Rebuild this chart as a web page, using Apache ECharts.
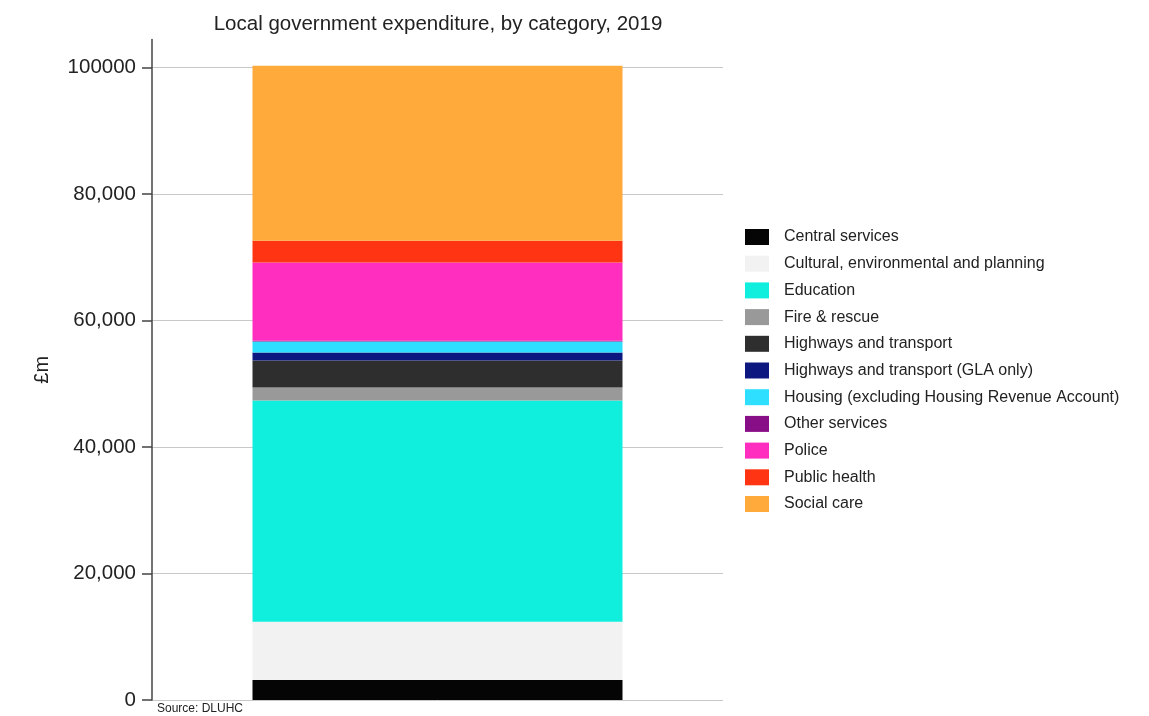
<!DOCTYPE html>
<html>
<head>
<meta charset="utf-8">
<script src="https://cdn.jsdelivr.net/npm/echarts@6/dist/echarts.min.js"></script>
<style>html,body{margin:0;padding:0;background:#fff;}#c{width:1149px;height:716px;}</style>
</head>
<body>
<div id="c"></div>
<script>
const xCategories = ['2019'];
const seriesNames = ['Central services','Cultural, environmental and planning','Education','Fire & rescue','Highways and transport','Highways and transport (GLA only)','Housing (excluding Housing Revenue Account)','Other services','Police','Public health','Social care'];
const seriesValues = [3160, 9220, 34940, 2055, 4270, 1265, 1740, 120, 12380, 3430, 27670];
const seriesColors = ['#050505','#f2f2f2','#10eedd','#999999','#2e2e2e','#0c1780','#2fdfff','#880e88','#ff2ebe','#ff3412','#ffaa3b'];
const yTickValues = [0, 20000, 40000, 60000, 80000, 100000];
const yTickLabels = ['0','20,000','40,000','60,000','80,000','100000'];

const chart = echarts.init(document.getElementById('c'), null, {renderer:'canvas'});
const font = 'Arial, "Liberation Sans", sans-serif';
chart.setOption({
  animation:false,
  backgroundColor:'#fff',
  title:{text:'Local government expenditure, by category, 2019', left:433, textAlign:'center', top:9,
    textStyle:{fontFamily:font, fontSize:20.5, fontWeight:'normal', color:'#222'}},
  grid:{left:152, right:426, top:39.5, bottom:16},
  legend:{orient:'vertical', left:740, top:224, itemWidth:24, itemHeight:16, itemGap:10.7,
    icon:'rect', textStyle:{fontFamily:font, fontSize:16, color:'#222', padding:[0,0,0,10]},
    data:seriesNames},
  xAxis:{type:'category', data:xCategories, axisLine:{show:false}, axisTick:{show:false}, axisLabel:{show:false}},
  yAxis:{type:'value', min:0, max:104400,
    name:'£m', nameLocation:'middle', nameGap:100, nameRotate:90,
    nameTextStyle:{fontFamily:font, fontSize:20, color:'#222'},
    axisLine:{show:true, lineStyle:{color:'#444', width:1.5}},
    axisTick:{show:true, length:10, customValues:yTickValues, lineStyle:{color:'#444', width:1.5}},
    axisLabel:{customValues:yTickValues, margin:16, fontFamily:font, fontSize:20.5, color:'#222',
      formatter:function(v){const i=yTickValues.indexOf(v); return i>=0?yTickLabels[i]:'';}},
    splitLine:{show:true, lineStyle:{color:'#c8c8c8', width:1}}},
  series: seriesNames.map((n,i)=>({name:n, type:'bar', stack:'total', barWidth:370,
    data:[seriesValues[i]], itemStyle:{color:seriesColors[i]}})),
  graphic:[{type:'text', left:157, top:703, style:{text:'Source: DLUHC', font:'12px Arial, "Liberation Sans", sans-serif', fill:'#222'}}]
});
</script>
</body>
</html>
